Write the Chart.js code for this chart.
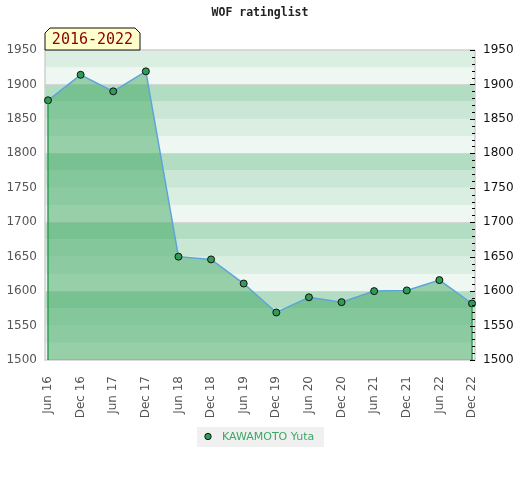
<!DOCTYPE html>
<html>
<head>
<meta charset="utf-8">
<script src="https://cdn.jsdelivr.net/npm/chart.js@4"></script>
<style>
  html, body { margin: 0; padding: 0; background: #fff; }
  #wrap { width: 520px; height: 480px; }
</style>
</head>
<body>
<div id="wrap"><canvas id="grafico" width="520" height="480"></canvas></div>
<script>
// dados
let meses = ["Jun 16", "Dec 16", "Jun 17", "Dec 17", "Jun 18", "Dec 18", "Jun 19",
             "Dec 19", "Jun 20", "Dec 20", "Jun 21", "Dec 21", "Jun 22", "Dec 22"];
let rating = [1877, 1914, 1890, 1919, 1650, 1646, 1611, 1569, 1591, 1584, 1600, 1601, 1616, 1582];
let nomeJogador = "KAWAMOTO Yuta";
let titulo = "WOF ratinglist";
let periodo = "2016-2022";
let yMin = 1500;
let yMax = 1950;

// cores das faixas, por (valor mod 100)
let coresFaixa = ["#eef7f1", "#dbeee2", "#c9e7d4", "#b3ddc3"];

const fundoFaixas = {
    id: "fundoFaixas",
    beforeDatasetsDraw(chart) {
        const ctx = chart.ctx;
        const y = chart.scales.y;
        const area = chart.chartArea;
        const esq = area.left - 3, dir = area.right + 3;
        ctx.save();
        for (let v = yMin; v < yMax; v += 25) {
            let topo = y.getPixelForValue(v + 25);
            let base = y.getPixelForValue(v);
            ctx.fillStyle = coresFaixa[(v % 100) / 25];
            ctx.fillRect(esq, topo, dir - esq, base - topo);
        }
        // linhas a cada 100
        ctx.strokeStyle = "#d6d6d6";
        ctx.lineWidth = 1;
        for (let v = 1600; v < yMax; v += 100) {
            let py = Math.round(y.getPixelForValue(v)) + 0.5;
            ctx.beginPath(); ctx.moveTo(esq, py); ctx.lineTo(dir, py); ctx.stroke();
        }
        // borda
        ctx.strokeStyle = "#d0d0d0";
        ctx.lineWidth = 1.5;
        ctx.beginPath();
        ctx.moveTo(dir, area.top); ctx.lineTo(esq, area.top);
        ctx.lineTo(esq, area.bottom); ctx.lineTo(dir, area.bottom); ctx.lineTo(dir, area.top);
        ctx.stroke();
        ctx.restore();
    },
    afterDatasetsDraw(chart) {
        const ctx = chart.ctx;
        const y = chart.scales.y;
        const area = chart.chartArea;
        const pontos = chart.getDatasetMeta(0).data;
        ctx.save();
        // bordas verticais verdes da area
        ctx.strokeStyle = "#2f9e55";
        ctx.lineWidth = 1.5;
        [pontos[0], pontos[pontos.length - 1]].forEach(p => {
            ctx.beginPath(); ctx.moveTo(p.x, p.y + 3); ctx.lineTo(p.x, area.bottom); ctx.stroke();
        });
        // marcas do eixo direito
        ctx.strokeStyle = "#000";
        ctx.lineWidth = 1;
        const xd = area.right + 3;
        for (let v = yMin; v <= yMax; v += 10) {
            let py = Math.round(y.getPixelForValue(v)) + 0.5;
            let tam = (v % 50 === 0) ? 5 : 3;
            ctx.beginPath(); ctx.moveTo(xd - tam, py); ctx.lineTo(xd, py); ctx.stroke();
        }
        ctx.restore();
    },
    afterDraw(chart) {
        const ctx = chart.ctx;
        const area = chart.chartArea;
        ctx.save();
        // titulo
        ctx.fillStyle = "#222";
        ctx.font = "bold 11.5px 'DejaVu Sans Mono'";
        ctx.textAlign = "center";
        ctx.textBaseline = "middle";
        ctx.fillText(titulo, 260, 13);
        // etiqueta do periodo
        const bx = area.left - 3, by = 28, bw = 95, bh = 22, c = 5;
        ctx.beginPath();
        ctx.moveTo(bx, by + bh);
        ctx.lineTo(bx, by + c);
        ctx.lineTo(bx + c, by);
        ctx.lineTo(bx + bw - c, by);
        ctx.lineTo(bx + bw, by + c);
        ctx.lineTo(bx + bw, by + bh);
        ctx.closePath();
        ctx.fillStyle = "#ffffcc";
        ctx.fill();
        ctx.strokeStyle = "#111";
        ctx.lineWidth = 1;
        ctx.stroke();
        ctx.fillStyle = "#8b0000";
        ctx.font = "15px 'DejaVu Sans Mono'";
        ctx.fillText(periodo, bx + bw / 2, by + bh / 2 + 1);
        // legenda
        ctx.fillStyle = "#f0f0f0";
        ctx.fillRect(197, 427, 127, 20);
        ctx.beginPath();
        ctx.arc(208, 436.5, 3.2, 0, Math.PI * 2);
        ctx.fillStyle = "#2f9e55";
        ctx.fill();
        ctx.strokeStyle = "#111";
        ctx.stroke();
        ctx.fillStyle = "#3aa865";
        ctx.font = "11px 'DejaVu Sans'";
        ctx.textAlign = "left";
        ctx.fillText(chart.data.datasets[0].label, 222, 437);
        ctx.restore();
    }
};

const ctx = document.getElementById("grafico").getContext("2d");
const myChart = new Chart(ctx, {
    type: "line",
    data: {
        labels: meses,
        datasets: [{
            label: nomeJogador,
            data: rating,
            fill: "start",
            backgroundColor: "rgba(62,168,96,0.5)",
            borderColor: "#5ea3dc",
            borderWidth: 1.5,
            tension: 0,
            pointRadius: 3.5,
            pointBackgroundColor: "#2f9e55",
            pointBorderColor: "#111",
            pointBorderWidth: 1,
            yAxisID: "y"
        }]
    },
    options: {
        responsive: false,
        animation: false,
        devicePixelRatio: 1,
        layout: { padding: { top: 50, bottom: 60, left: 0, right: 0 } },
        plugins: {
            legend: { display: false },
            title: { display: false },
            tooltip: { enabled: false }
        },
        scales: {
            x: {
                grid: { display: false },
                border: { display: false },
                ticks: {
                    color: "#555",
                    font: { family: "DejaVu Sans", size: 12 },
                    maxRotation: 90,
                    minRotation: 90,
                    autoSkip: false,
                    padding: 8
                },
                afterFit(scale) { scale.height = 60; }
            },
            y: {
                position: "left",
                min: yMin,
                max: yMax,
                grid: { display: false, drawTicks: false },
                border: { display: false },
                ticks: {
                    stepSize: 50,
                    color: "#555",
                    font: { family: "DejaVu Sans", size: 12 },
                    padding: 11,
                    callback: v => String(v)
                },
                afterFit(scale) { scale.width = 48; }
            },
            y2: {
                position: "right",
                min: yMin,
                max: yMax,
                grid: { display: false, drawTicks: false },
                border: { display: false },
                ticks: {
                    stepSize: 50,
                    color: "#111",
                    font: { family: "DejaVu Sans", size: 12 },
                    padding: 11,
                    callback: v => String(v)
                },
                afterFit(scale) { scale.width = 48; }
            }
        }
    },
    plugins: [fundoFaixas]
});
</script>
</body>
</html>
